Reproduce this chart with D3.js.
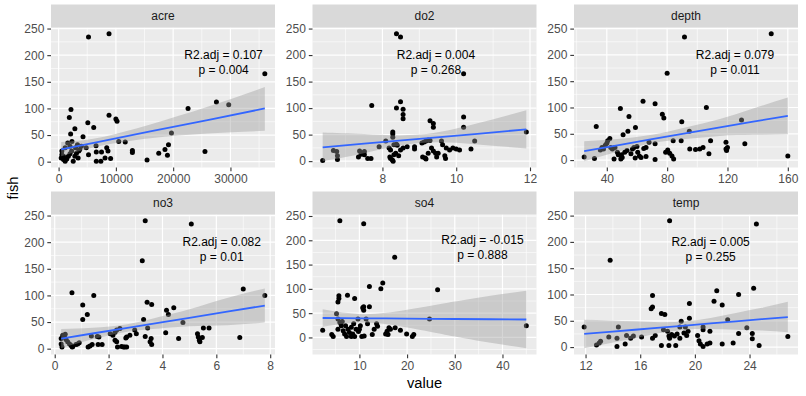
<!DOCTYPE html>
<html>
<head>
<meta charset="utf-8">
<script src="https://cdn.jsdelivr.net/npm/d3@7"></script>
<style>
  body { margin: 0; background: #fff; }
</style>
</head>
<body>
<div id="chart"></div>
<script>
// points per facet: [value, fish]
const acre = [[5220, 234], [8800, 240], [36000, 165], [22600, 100], [27550, 112], [29700, 107], [19700, 54],
  [2160, 98], [1870, 83], [8800, 87], [5100, 73], [6130, 64], [2840, 62], [10000, 80], [10200, 76], [2100, 52],
  [4260, 47], [10500, 38], [11630, 37], [2330, 38], [12880, 21], [12880, 17], [15440, 3], [17480, 16], [18570, 23],
  [19180, 32], [19000, 12], [25550, 19], [6530, 30], [8400, 26], [8620, 20], [9080, 6], [6580, 18], [7490, 18],
  [7380, 1], [6580, 1], [8110, 7], [5220, 13], [3520, 20], [4820, 26], [3970, 29], [570, 20], [850, 10], [850, 4],
  [1140, 1], [1420, 5], [1700, 10], [1990, 15], [2270, 20], [2550, 1], [2840, 10], [3120, 16], [3410, 7],
  [3690, 23], [1590, 35], [1990, 29], [1140, 26], [570, 13], [450, 7], [2950, 26], [3290, 32]];

const do2 = [[8.38, 240], [8.49, 234], [10.2, 165], [8.49, 112], [8.38, 100], [7.71, 105], [10.2, 83], [10.2, 64],
  [8.56, 98], [8.56, 88], [8.56, 80], [9.29, 76], [9.38, 71], [9.38, 64], [8.28, 55], [8.28, 51], [8.28, 45],
  [8.09, 38], [7.91, 27], [7.38, 19], [7.42, 13], [6.67, 20], [6.76, 18], [6.78, 10], [6.78, 3], [6.38, 1],
  [7.51, 18], [7.51, 12], [7.6, 5], [7.69, 5], [7.35, 8], [8.18, 25], [8.22, 21], [8.31, 31], [8.38, 32], [8.4, 30],
  [8.2, 8], [8.22, 5], [8.27, 2], [8.29, 0], [8.31, 12], [8.36, 15], [8.44, 10], [8.49, 21], [8.56, 25], [8.67, 27],
  [8.87, 27], [8.87, 23], [9.07, 34], [9.13, 36], [9.18, 38], [9.24, 40], [9.29, 39], [9.09, 8], [9.16, 6],
  [9.18, 4], [9.24, 15], [9.33, 25], [9.38, 19], [9.44, 15], [9.47, 8], [9.51, 15], [9.6, 38], [9.63, 31],
  [9.69, 10], [9.71, 5], [9.73, 25], [9.82, 21], [9.91, 25], [10.0, 23], [10.09, 21], [10.4, 23], [10.5, 38],
  [11.9, 55]];

const depth = [[91.5, 234], [149, 240], [80, 165], [64, 112], [72, 107], [106, 100], [49, 98], [76.8, 87],
  [77.8, 80], [54.7, 83], [33, 64], [59, 62], [89.7, 73], [54, 55], [50.8, 48], [94.7, 55], [129.3, 76],
  [131.5, 31], [119, 34], [119, 21], [120, 24], [119.4, 18], [108.8, 37], [107.7, 12], [101.6, 21], [103.8, 24],
  [98.8, 20], [95, 21], [89.3, 37], [84, 37], [79, 15], [80.4, 19], [81.7, 13], [83.2, 8], [84.3, 2], [160, 8],
  [72, 31], [72, 1], [68, 34], [66, 24], [64.5, 22], [66, 7], [60.5, 15], [61.6, 8], [62.7, 5], [58.8, 4], [56, 12],
  [58, 24], [60, 26], [57, 21], [53.4, 18], [51.9, 15], [49.7, 10], [50.2, 5], [49.3, 2], [47, 15], [47.6, 10],
  [44.8, 2], [40.6, 37], [42, 41], [40, 32], [37.8, 21], [35.7, 19], [36.8, 24], [39, 28], [42.6, 24], [43.7, 21],
  [45.4, 24], [31.8, 3], [25, 6]];

const no3 = [[3.36, 240], [5.07, 234], [3.25, 165], [7.0, 112], [7.8, 100], [0.64, 105], [1.45, 100], [1.04, 82],
  [3.43, 87], [3.6, 83], [1.21, 64], [1.04, 55], [3.3, 55], [4.15, 72], [4.22, 64], [4.42, 77], [4.76, 49],
  [4.12, 30], [4.6, 19], [3.45, 39], [3.36, 23], [3.54, 13], [3.58, 19], [3.6, 8], [5.3, 28], [5.33, 22], [5.37, 16],
  [5.39, 13], [5.48, 21], [5.52, 39], [5.73, 39], [6.87, 21], [2.97, 35], [3.03, 28], [2.79, 25], [2.67, 22],
  [2.3, 35], [2.42, 38], [2.24, 31], [2.06, 28], [2.16, 25], [2.24, 16], [2.3, 13], [2.33, 3], [2.48, 4], [2.55, 3],
  [2.6, 3], [2.67, 3], [2.64, 20], [1.58, 23], [1.64, 22], [1.61, 8], [1.76, 8], [1.31, 5], [1.24, 3], [1.39, 8],
  [1.36, 24], [0.3, 25], [0.36, 22], [0.42, 17], [0.48, 13], [0.55, 9], [0.61, 6], [0.67, 4], [0.79, 8], [0.85, 9],
  [0.91, 11], [0.24, 19], [0.24, 9], [0.27, 3], [0.39, 27], [0.65, 3]];

const so4 = [[5.9, 240], [10.9, 234], [17.4, 165], [14.9, 112], [14.5, 100], [12.1, 105], [26.4, 98], [5.7, 86],
  [5.7, 80], [5.5, 73], [7.5, 87], [9, 80], [10.9, 63], [10.9, 56], [10.7, 61], [12.1, 63], [5.2, 49], [24.7, 38],
  [45, 24], [2.3, 15], [4.2, 6], [4.5, 2], [18.6, 15], [19.9, 7], [21.1, 2], [21.4, 6], [17.5, 20], [16.2, 20],
  [16.5, 17], [15.8, 13], [15.5, 7], [16, 6], [13.6, 28], [13.8, 23], [13.1, 17], [12.7, 6], [5.5, 38], [5.9, 31],
  [6.2, 24], [5.5, 17], [6.6, 14], [6.9, 7], [7.3, 2], [7.6, 17], [7.9, 10], [8.3, 21], [8.6, 7], [9, 2], [9.3, 17],
  [9.7, 38], [9.8, 12], [10.2, 24], [10.5, 2], [11, 3], [11.4, 38], [11.7, 28], [8.3, 2], [7.1, 24], [6.4, 33],
  [8.8, 28], [10, 17]];

const temp = [[18.15, 240], [24.5, 234], [13.8, 165], [24.3, 112], [21.6, 107], [23.2, 100], [16.9, 98],
  [21.4, 87], [22, 80], [19.6, 83], [16.8, 73], [16.9, 76], [17.55, 64], [17.8, 62], [19.6, 55], [19, 49],
  [22.4, 52], [11.9, 38], [14.4, 38], [20.6, 38], [20.6, 33], [19.3, 38], [23.8, 37], [24.2, 26], [24.2, 16],
  [23.2, 26], [21.1, 30], [19.5, 30], [12.8, 4], [13, 8], [13.1, 11], [13.7, 19], [14.3, 17], [14.3, 1], [15, 22],
  [15.3, 17], [15.5, 21], [14.9, 6], [16.1, 19], [16.9, 17], [17.1, 22], [17.7, 33], [18, 30], [18.1, 21],
  [18.15, 17], [18.3, 24], [17.55, 3], [18.1, 3], [18.6, 3], [18.5, 21], [18.7, 25], [18.9, 17], [19.2, 27],
  [19.4, 22], [20.2, 22], [20.3, 12], [20.4, 6], [20.6, 1], [20.9, 6], [21.1, 8], [22, 6], [22.8, 8], [24.7, 3],
  [26.8, 20], [18.9, 38]];

// lm fit: [value, fit, lower, upper]
const acreFit = [[450, 23, 10, 37], [7000, 37, 29, 45], [16000, 57, 44, 70], [26000, 78, 53, 103], [36000, 100, 58, 140]];
const do2Fit = [[6.38, 26, 0, 54], [7.5, 33, 15, 51], [9.0, 42, 34, 50], [10.5, 51, 32, 70], [11.9, 60, 24, 96]];
const depthFit = [[25, 17, -2, 36], [47, 28, 16, 40], [70, 40, 32, 48], [92, 51, 40, 62], [115, 62, 46, 78],
  [137, 73, 48, 98], [160, 84, 49, 119]];
const no3Fit = [[0.24, 19, 1, 37], [1.4, 28.5, 17.5, 39.5], [2.7, 39, 32, 46], [3.9, 49, 38, 60], [5.0, 58, 42, 74],
  [6.4, 69.4, 44, 95], [7.8, 81, 49, 113]];
const so4Fit = [[2.3, 40, 22, 58], [6.5, 39.7, 28.2, 51.2], [11, 39.4, 31, 48], [15.5, 39.1, 27.6, 50.6],
  [20, 38.8, 20.4, 57.2], [25, 38.4, 11.4, 65.4], [30, 38, 2, 74], [37.5, 37.5, -11, 86], [45, 37, -22, 96]];
const tempFit = [[11.9, 25, -2, 52], [13.75, 29, 7.4, 50.6], [15.6, 33, 17, 49], [17.45, 37, 26.6, 47.4],
  [19.3, 41, 33, 49], [21.15, 45, 34.6, 55.4], [23, 49, 33, 65], [24.9, 53, 31.4, 74.6], [26.8, 57, 28, 86]];

// tick labels
const fishTicks = [0, 50, 100, 150, 200, 250];
const acreTicks = [0, 10000, 20000, 30000];
const do2Ticks = [8, 10, 12];
const depthTicks = [40, 80, 120, 160];
const no3Ticks = [0, 2, 4, 6, 8];
const so4Ticks = [10, 20, 30, 40];
const tempTicks = [12, 16, 20, 24];

const facetNames = ['acre', 'do2', 'depth', 'no3', 'so4', 'temp'];
const r2Labels = ['R2.adj = 0.107', 'R2.adj = 0.004', 'R2.adj = 0.079', 'R2.adj = 0.082', 'R2.adj = -0.015', 'R2.adj = 0.005'];
const pLabels = ['p = 0.004', 'p = 0.268', 'p = 0.011', 'p = 0.01', 'p = 0.888', 'p = 0.255'];
const labelX = [28800, 9.45, 125, 6.2, 35.8, 21.15];
const labelY = 200;

const panels = facetNames.map((name, i) => ({
  name,
  pts: [acre, do2, depth, no3, so4, temp][i],
  fit: [acreFit, do2Fit, depthFit, no3Fit, so4Fit, tempFit][i],
  ticks: [acreTicks, do2Ticks, depthTicks, no3Ticks, so4Ticks, tempTicks][i],
  r2: r2Labels[i],
  p: pLabels[i],
  lx: labelX[i]
}));

const W = 806, H = 396;
const cols = [51, 312.5, 574], rows = [4.5, 191.5];
const panelW = 224, stripH = 23, plotH = 140;
const font = '"Liberation Sans", Arial, sans-serif';

const svg = d3.select('#chart').append('svg')
  .attr('width', W)
  .attr('height', H)
  .style('font-family', font);

// ggplot style 5% expansion
function expand(ext) {
  const pad = (ext[1] - ext[0]) * 0.05;
  return [ext[0] - pad, ext[1] + pad];
}

// minor breaks half way between major ones
function minors(ticks, dom) {
  const s = ticks[1] - ticks[0], out = [];
  for (let t = ticks[0] - s; t <= ticks[ticks.length - 1]; t += s) {
    const m = t + s / 2;
    if (m >= dom[0] && m <= dom[1]) out.push(m);
  }
  return out;
}

panels.forEach((p, i) => {
  const left = cols[i % 3], top = rows[Math.floor(i / 3)];
  const plotTop = top + stripH;

  const x = d3.scaleLinear()
    .domain(expand(d3.extent(p.pts, d => d[0])))
    .range([0, panelW]);
  const yVals = p.pts.map(d => d[1]).concat(p.fit.map(d => d[2]), p.fit.map(d => d[3]));
  const y = d3.scaleLinear()
    .domain(expand(d3.extent(yVals)))
    .range([plotH, 0]);

  const g = svg.append('g').attr('transform', `translate(${left},${plotTop})`);

  g.append('clipPath').attr('id', 'clip' + i)
    .append('rect').attr('width', panelW).attr('height', plotH);

  g.append('rect')
    .attr('width', panelW)
    .attr('height', plotH)
    .attr('fill', '#EBEBEB');

  // grid
  const grid = g.append('g').attr('stroke', '#fff').attr('fill', 'none');
  grid.selectAll('.ymin').data(minors(fishTicks, y.domain())).join('line')
    .attr('x1', 0).attr('x2', panelW)
    .attr('y1', d => y(d)).attr('y2', d => y(d))
    .attr('stroke-width', 0.6);
  grid.selectAll('.xmin').data(minors(p.ticks, x.domain())).join('line')
    .attr('y1', 0).attr('y2', plotH)
    .attr('x1', d => x(d)).attr('x2', d => x(d))
    .attr('stroke-width', 0.6);
  grid.selectAll('.ymaj').data(fishTicks).join('line')
    .attr('x1', 0).attr('x2', panelW)
    .attr('y1', d => y(d)).attr('y2', d => y(d))
    .attr('stroke-width', 1.2);
  grid.selectAll('.xmaj').data(p.ticks).join('line')
    .attr('y1', 0).attr('y2', plotH)
    .attr('x1', d => x(d)).attr('x2', d => x(d))
    .attr('stroke-width', 1.2);

  // points
  g.append('g').selectAll('circle').data(p.pts).join('circle')
    .attr('cx', d => x(d[0]))
    .attr('cy', d => y(d[1]))
    .attr('r', 2.5)
    .attr('fill', '#000');

  // smooth: ribbon then line
  const band = d3.area()
    .x(d => x(d[0]))
    .y0(d => y(d[2]))
    .y1(d => y(d[3]))
    .curve(d3.curveNatural);
  g.append('path')
    .datum(p.fit)
    .attr('clip-path', `url(#clip${i})`)
    .attr('fill', '#999999')
    .attr('fill-opacity', 0.4)
    .attr('d', band);

  const fitLine = d3.line()
    .x(d => x(d[0]))
    .y(d => y(d[1]));
  g.append('path')
    .datum(p.fit)
    .attr('clip-path', `url(#clip${i})`)
    .attr('fill', 'none')
    .attr('stroke', '#3366FF')
    .attr('stroke-width', 1.8)
    .attr('d', fitLine);

  // annotation
  const ann = g.append('text')
    .attr('x', x(p.lx))
    .attr('y', y(labelY))
    .attr('text-anchor', 'middle')
    .attr('font-size', '12px')
    .attr('fill', '#000');
  ann.append('tspan').attr('x', x(p.lx)).attr('dy', '0.35em').text(p.r2);
  ann.append('tspan').attr('x', x(p.lx)).attr('dy', '15').text(p.p);

  // strip
  svg.append('rect')
    .attr('x', left)
    .attr('y', top)
    .attr('width', panelW)
    .attr('height', stripH)
    .attr('fill', '#D9D9D9');
  svg.append('text')
    .attr('x', left + panelW / 2)
    .attr('y', top + stripH / 2)
    .attr('dy', '0.35em')
    .attr('text-anchor', 'middle')
    .attr('font-size', '12px')
    .attr('fill', '#1A1A1A')
    .text(p.name);

  // axes
  const yAxis = g.append('g')
    .call(d3.axisLeft(y).tickValues(fishTicks).tickSize(3.7).tickPadding(3));
  const xAxis = g.append('g')
    .attr('transform', `translate(0,${plotH})`)
    .call(d3.axisBottom(x).tickValues(p.ticks).tickFormat(d => d).tickSize(3.7).tickPadding(3));
  [yAxis, xAxis].forEach(a => {
    a.select('.domain').remove();
    a.attr('font-family', font).attr('font-size', '12px');
    a.selectAll('line').attr('stroke', '#333333').attr('stroke-width', 1.1);
    a.selectAll('text').attr('fill', '#4D4D4D');
  });
});

// axis titles
svg.append('text')
  .attr('transform', 'translate(13,188) rotate(-90)')
  .attr('dy', '0.35em')
  .attr('text-anchor', 'middle')
  .attr('font-size', '14.7px')
  .attr('fill', '#000')
  .text('fish');

svg.append('text')
  .attr('x', (cols[0] + cols[2] + panelW) / 2)
  .attr('y', 383)
  .attr('dy', '0.35em')
  .attr('text-anchor', 'middle')
  .attr('font-size', '14.7px')
  .attr('fill', '#000')
  .text('value');
</script>
</body>
</html>
